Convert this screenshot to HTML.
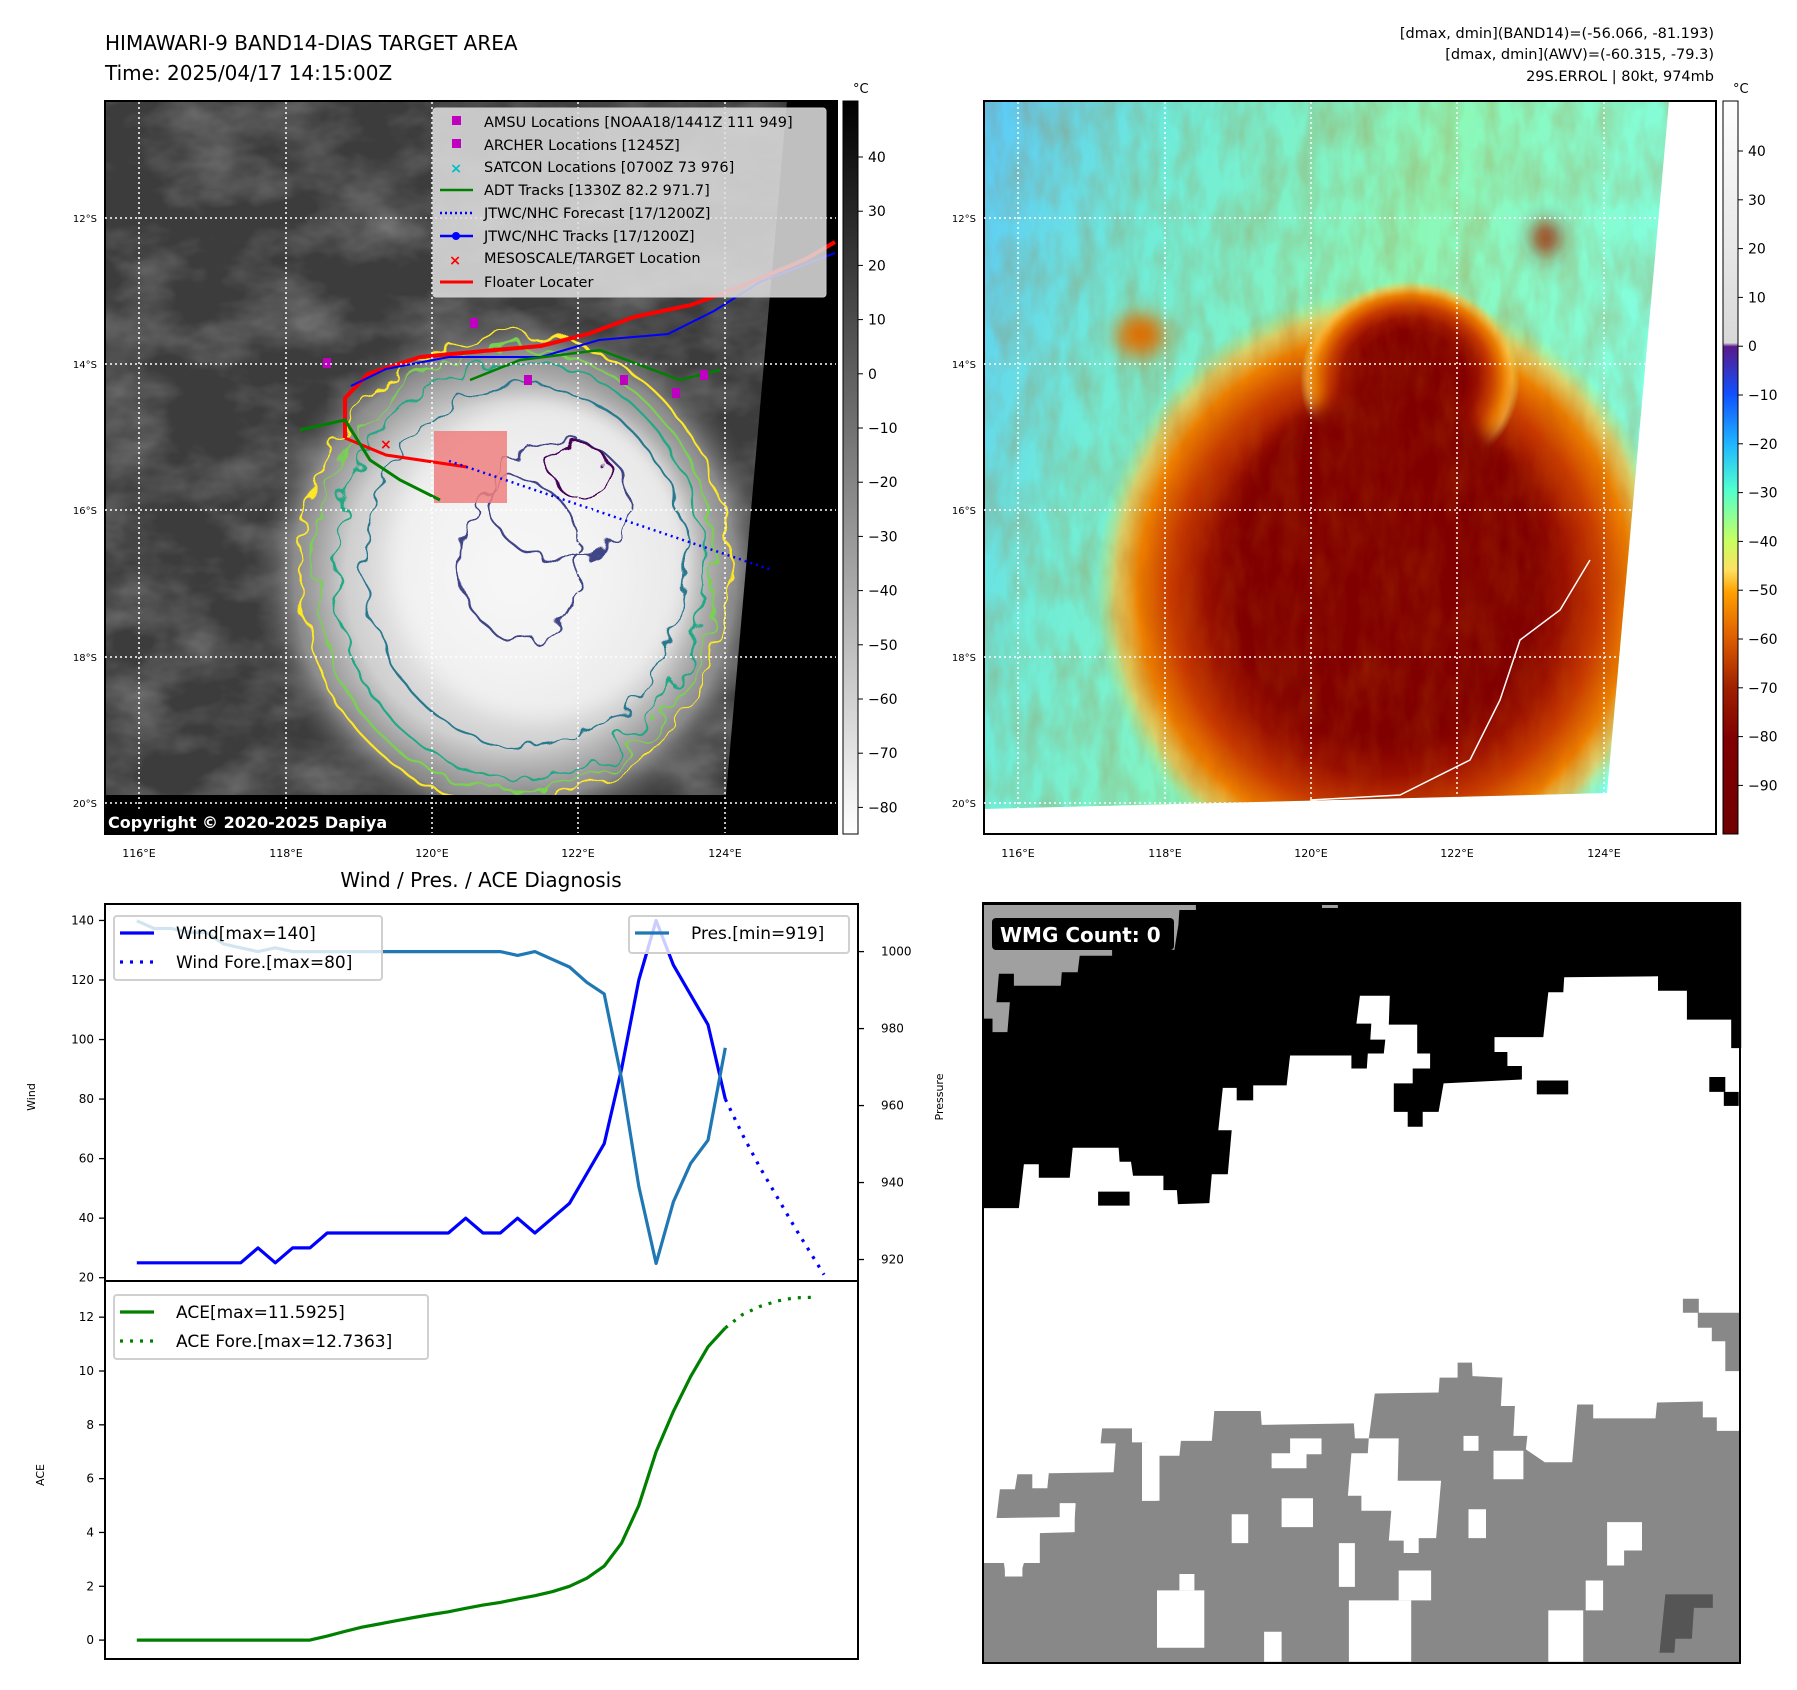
<!DOCTYPE html>
<html><head><meta charset="utf-8">
<style>
html,body{margin:0;padding:0;background:#fff;}
svg{display:block;font-family:"DejaVu Sans","Liberation Sans",sans-serif;}
</style></head>
<body>
<svg id="root" width="1797" height="1690" viewBox="0 0 1797 1690" xmlns="http://www.w3.org/2000/svg">
<defs>
  <filter id="clouds" x="0" y="0" width="100%" height="100%">
    <feTurbulence type="fractalNoise" baseFrequency="0.012 0.02" numOctaves="4" seed="7"/>
    <feColorMatrix type="matrix" values="0 0 0 0 0.6  0 0 0 0 0.6  0 0 0 0 0.6  0 0 0 0.9 -0.35"/>
  </filter>
  <filter id="wig" x="-20%" y="-20%" width="140%" height="140%">
    <feTurbulence type="fractalNoise" baseFrequency="0.04" numOctaves="2" seed="3" result="n"/>
    <feDisplacementMap in="SourceGraphic" in2="n" scale="28"/>
  </filter>
  <filter id="tex" x="0" y="0" width="100%" height="100%">
    <feTurbulence type="fractalNoise" baseFrequency="0.05 0.02" numOctaves="3" seed="11"/>
    <feColorMatrix type="matrix" values="0 0 0 0 0.5  0 0 0 0 0.1  0 0 0 0 0  0 0 0 0.9 -0.3"/>
  </filter>
  <filter id="blur8" x="-100%" y="-100%" width="300%" height="300%"><feGaussianBlur stdDeviation="10"/></filter>
  <radialGradient id="bright" cx="0.5" cy="0.5" r="0.5">
    <stop offset="0" stop-color="#ffffff"/>
    <stop offset="0.35" stop-color="#f0f0f0"/>
    <stop offset="0.65" stop-color="#cfcfcf"/>
    <stop offset="0.85" stop-color="#9a9a9a" stop-opacity="0.8"/>
    <stop offset="1" stop-color="#555" stop-opacity="0"/>
  </radialGradient>
  <radialGradient id="hot" cx="0.5" cy="0.5" r="0.5">
    <stop offset="0" stop-color="#7c0000"/>
    <stop offset="0.5" stop-color="#840000"/>
    <stop offset="0.62" stop-color="#9a1000"/>
    <stop offset="0.74" stop-color="#c83a00"/>
    <stop offset="0.85" stop-color="#ee8000"/>
    <stop offset="0.93" stop-color="#ffc040" stop-opacity="0.7"/>
    <stop offset="1" stop-color="#c8f070" stop-opacity="0"/>
  </radialGradient>
  <linearGradient id="bgTR" x1="0" y1="0" x2="1" y2="0.3">
    <stop offset="0" stop-color="#5cc8f8"/>
    <stop offset="0.25" stop-color="#70ecd8"/>
    <stop offset="0.6" stop-color="#8cf8b8"/>
    <stop offset="1" stop-color="#80ffe8"/>
  </linearGradient>
  <linearGradient id="cbL" x1="0" y1="0" x2="0" y2="1">
    <stop offset="0" stop-color="#000"/>
    <stop offset="1" stop-color="#fff"/>
  </linearGradient>
  <linearGradient id="cbR" x1="0" y1="0" x2="0" y2="1">
    <stop offset="0" stop-color="#ffffff"/>
    <stop offset="0.33" stop-color="#d8d8d8"/>
    <stop offset="0.335" stop-color="#5a1a8a"/>
    <stop offset="0.40" stop-color="#1050ff"/>
    <stop offset="0.47" stop-color="#20b8ff"/>
    <stop offset="0.53" stop-color="#50ffd0"/>
    <stop offset="0.60" stop-color="#c8ff60"/>
    <stop offset="0.64" stop-color="#ffe060"/>
    <stop offset="0.67" stop-color="#ffa000"/>
    <stop offset="0.73" stop-color="#e06000"/>
    <stop offset="0.80" stop-color="#a02000"/>
    <stop offset="0.87" stop-color="#800000"/>
    <stop offset="1" stop-color="#700000"/>
  </linearGradient>
  <clipPath id="clipTL"><rect x="105" y="101" width="732" height="733"/></clipPath>
  <clipPath id="clipTR"><polygon points="984,101 1669,101 1607,793 984,809"/></clipPath>
</defs>

<text x="105" y="50" font-size="20" fill="#000">HIMAWARI-9 BAND14-DIAS TARGET AREA</text>
<text x="105" y="80" font-size="20" fill="#000">Time: 2025/04/17 14:15:00Z</text>
<g font-size="14.5" text-anchor="end" fill="#000">
  <text x="1714" y="38">[dmax, dmin](BAND14)=(-56.066, -81.193)</text>
  <text x="1714" y="59">[dmax, dmin](AWV)=(-60.315, -79.3)</text>
  <text x="1714" y="81">29S.ERROL | 80kt, 974mb</text>
</g>

<g clip-path="url(#clipTL)">
  <rect x="105" y="101" width="732" height="733" fill="#3c3c3c"/>
  <rect x="105" y="101" width="732" height="733" filter="url(#clouds)" opacity="0.8"/>
  <ellipse cx="515" cy="575" rx="260" ry="265" fill="url(#bright)"/>
  <ellipse cx="540" cy="560" rx="150" ry="160" fill="#f4f4f4" opacity="0.7" filter="url(#blur8)"/>
  <g fill="none" stroke-width="2.2" filter="url(#wig)">
    <ellipse cx="515" cy="570" rx="215" ry="235" stroke="#fde725"/>
    <ellipse cx="515" cy="570" rx="200" ry="222" stroke="#7ad151"/>
    <ellipse cx="520" cy="570" rx="185" ry="208" stroke="#22a884"/>
    <ellipse cx="525" cy="565" rx="160" ry="180" stroke="#2a788e"/>
    <ellipse cx="560" cy="500" rx="70" ry="60" stroke="#414487"/>
    <ellipse cx="520" cy="560" rx="60" ry="80" stroke="#414487"/>
    <ellipse cx="580" cy="470" rx="30" ry="25" stroke="#440154"/>
  </g>
  <polygon points="787,101 837,101 837,834 105,834 105,795 726,795" fill="#000"/>
  <rect x="434" y="431" width="73" height="72" fill="#f08080" opacity="0.85"/>
  <polyline points="345,438 345,398 368,374 420,357 484,351 541,346 588,334 634,317 691,305 737,288 806,259 835,242" fill="none" stroke="#ff0000" stroke-width="4"/>
  <polyline points="351,386 386,369 449,357 541,357 599,340 668,334 714,311 760,282 835,253" fill="none" stroke="#0000ff" stroke-width="2"/>
  <polyline points="345,438 386,455 467,467" fill="none" stroke="#ff0000" stroke-width="3"/>
  <polyline points="449,461 772,570" fill="none" stroke="#0000ff" stroke-width="2.5" stroke-dasharray="2,4"/>
  <polyline points="300,430 345,420 370,460 400,480 440,500" fill="none" stroke="#008000" stroke-width="3"/>
  <polyline points="470,380 520,360 600,350 680,380 720,370" fill="none" stroke="#008000" stroke-width="2.5"/>
  <g fill="#c000c0">
    <rect x="323" y="358" width="8" height="10"/><rect x="470" y="318" width="8" height="10"/>
    <rect x="524" y="375" width="8" height="10"/><rect x="620" y="375" width="8" height="10"/>
    <rect x="672" y="388" width="8" height="10"/><rect x="700" y="370" width="8" height="10"/>
  </g>
  <text x="380" y="449" fill="#ff0000" font-size="14" font-weight="bold">×</text>
</g>
<rect x="105" y="101" width="732" height="733" fill="none" stroke="#000" stroke-width="2"/>
<g id="gridTL" stroke="#fff" stroke-width="1.5" stroke-dasharray="2,3"></g>
<rect x="105" y="810" width="310" height="24" fill="#000"/>
<text x="108" y="828" fill="#fff" font-size="16" font-weight="bold">Copyright © 2020-2025 Dapiya</text>

<g>
  <rect x="433" y="108" width="393" height="189" rx="3" fill="#e0e0e0" fill-opacity="0.85" stroke="#ccc"/>
  <g font-size="14.5" fill="#000">
    <rect x="452" y="116" width="9" height="9" fill="#c000c0"/><text x="484" y="127">AMSU Locations [NOAA18/1441Z 111 949]</text>
    <rect x="452" y="139" width="9" height="9" fill="#c000c0"/><text x="484" y="150">ARCHER Locations [1245Z]</text>
    <text x="450" y="173" fill="#00c0c0" font-weight="bold">×</text><text x="484" y="172">SATCON Locations [0700Z 73 976]</text>
    <line x1="440" y1="190" x2="473" y2="190" stroke="#008000" stroke-width="2.5"/><text x="484" y="195">ADT Tracks [1330Z 82.2 971.7]</text>
    <line x1="440" y1="213" x2="473" y2="213" stroke="#0000ff" stroke-width="2.5" stroke-dasharray="2,3"/><text x="484" y="218">JTWC/NHC Forecast [17/1200Z]</text>
    <line x1="440" y1="236" x2="473" y2="236" stroke="#0000ff" stroke-width="2.5"/><circle cx="456" cy="236" r="4" fill="#0000ff"/><text x="484" y="241">JTWC/NHC Tracks [17/1200Z]</text>
    <text x="449" y="265" fill="#ff0000" font-weight="bold">×</text><text x="484" y="263">MESOSCALE/TARGET Location</text>
    <line x1="440" y1="282" x2="473" y2="282" stroke="#ff0000" stroke-width="3"/><text x="484" y="287">Floater Locater</text>
  </g>
</g>

<rect x="843" y="101" width="15" height="733" fill="url(#cbL)" stroke="#000" stroke-width="1"/>
<text x="853" y="93" font-size="13">°C</text>
<g id="cbLticks" font-size="14"></g>

<g>
  <g clip-path="url(#clipTR)">
    <rect x="984" y="101" width="732" height="733" fill="url(#bgTR)"/>
    <ellipse cx="1385" cy="590" rx="290" ry="300" fill="url(#hot)"/>
    <ellipse cx="1410" cy="380" rx="110" ry="100" fill="url(#hot)"/>
    <ellipse cx="1385" cy="570" rx="160" ry="180" fill="#800000" filter="url(#blur8)"/>
    <ellipse cx="1140" cy="335" rx="25" ry="22" fill="#e07000" filter="url(#blur8)"/>
    <ellipse cx="1546" cy="238" rx="14" ry="18" fill="#a02000" filter="url(#blur8)"/>
    <rect x="984" y="101" width="732" height="733" filter="url(#tex)" opacity="0.5"/>
    <path d="M1590,560 L1560,610 L1520,640 L1500,700 L1470,760 L1400,795 L1310,800" fill="none" stroke="#fff" stroke-width="1.5"/>
  </g>
  <rect x="984" y="101" width="732" height="733" fill="none" stroke="#000" stroke-width="2"/>
</g>
<g id="gridTR" stroke="#fff" stroke-width="1.5" stroke-dasharray="2,3"></g>
<rect x="1723" y="101" width="15" height="733" fill="url(#cbR)" stroke="#000" stroke-width="1"/>
<text x="1733" y="93" font-size="13">°C</text>
<g id="cbRticks" font-size="14"></g>

<text x="481" y="887" font-size="20" text-anchor="middle">Wind / Pres. / ACE Diagnosis</text>
<g id="chart"></g>

<g id="wmg"></g>
</svg>

<script>
const windIdx = [0,1,2,3,4,5,6,7,8,9,10,11,12,13,14,15,16,17,18,19,20,21,22,23,24,25,26,27,28,29,30,31,32,33,34];
const windVals = [25,25,25,25,25,25,25,30,25,30,30,35,35,35,35,35,35,35,35,40,35,35,40,35,40,45,55,65,90,120,140,125,115,105,80];
const windForeIdx = [34,35,36,37,38,39.7];
const windForeVals = [80,68,57,47,37,21];
const presVals = [1008,1006,1006,1005,1005,1002,1001,1000,1001,1000,1000,1000,1000,1000,1000,1000,1000,1000,1000,1000,1000,1000,999,1000,998,996,992,989,967,939,919,935,945,951,975];
const aceVals = [0,0,0,0,0,0,0,0,0,0,0,0.15,0.32,0.48,0.6,0.72,0.84,0.95,1.05,1.18,1.3,1.4,1.53,1.65,1.8,2.0,2.3,2.75,3.6,5.0,7.0,8.5,9.8,10.9,11.6];
const aceForeIdx = [34,35,36,37,38,39.1];
const aceForeVals = [11.6,12.1,12.4,12.6,12.72,12.74];
const windTicks = [20,40,60,80,100,120,140];
const presTicks = [920,940,960,980,1000];
const aceTicks = [0,2,4,6,8,10,12];
const latTicks = ["12°S","14°S","16°S","18°S","20°S"];
const lonTicks = ["116°E","118°E","120°E","122°E","124°E"];
const cbLTicks = [40,30,20,10,0,-10,-20,-30,-40,-50,-60,-70,-80];
const cbRTicks = [40,30,20,10,0,-10,-20,-30,-40,-50,-60,-70,-80,-90];

const NS = "http://www.w3.org/2000/svg";
function mk(tag, attrs, parent){const e=document.createElementNS(NS,tag);for(const k in attrs)e.setAttribute(k,attrs[k]);parent.appendChild(e);return e;}

const xS = i => 136.8 + 17.31*i;
const yW = v => 1277.7 - (v-20)*2.977;
const yP = p => 951.6 + (1000-p)*3.849;
const yA = a => 1640.1 - a*26.91;

const chart = document.getElementById('chart');
let f1 = mk('rect',{x:105,y:904,width:753,height:377,fill:'#fff',stroke:'#000','stroke-width':2},chart);


let f2 = mk('rect',{x:105,y:1281,width:753,height:378,fill:'#fff',stroke:'#000','stroke-width':2},chart);



function ticksLeft(vals, yf, name){
  vals.forEach(v=>{
    const y=yf(v);
    const l=mk('line',{x1:99,x2:105,y1:y,y2:y,stroke:'#000','stroke-width':1.3},chart);
    
    
    const t=mk('text',{x:94,y:y+4,'font-size':12,'text-anchor':'end'},chart);
    t.textContent=v;
    
    
  });
}
ticksLeft(windTicks,yW,'wind-axis');
ticksLeft(aceTicks,yA,'ace-axis');
presTicks.forEach(v=>{
  const y=yP(v);
  const l=mk('line',{x1:858,x2:864,y1:y,y2:y,stroke:'#000','stroke-width':1.3},chart);
  
  
  const t=mk('text',{x:881,y:y+4,'font-size':12},chart);
  t.textContent=v;
  
  
});
function vlabel(x,y,txt,name){
  const t=mk('text',{x:x,y:y,'font-size':11,'text-anchor':'middle',transform:`rotate(-90 ${x} ${y})`},chart);
  t.textContent=txt;
  
  
}
vlabel(35,1097,'Wind','wind-axis-title');
vlabel(943,1097,'Pressure','pressure-axis-title');
vlabel(44,1475,'ACE','ace-axis-title');

function line(xs, ys, color, dash, name, w){
  const pts = xs.map((x,i)=>x.toFixed(1)+','+ys[i].toFixed(1)).join(' ');
  const p=mk('polyline',{points:pts,fill:'none',stroke:color,'stroke-width':w||3.2,'stroke-linejoin':'round'},chart);
  if(dash)p.setAttribute('stroke-dasharray',dash);
  
  
}
line(windIdx.map(xS), windVals.map(yW), '#0000ff', null, 'wind-line');
line(windForeIdx.map(xS), windForeVals.map(yW), '#0000ff', '3,7', 'wind-forecast-line');
line(windIdx.map(xS), presVals.map(yP), '#1f77b4', null, 'pressure-line');
line(windIdx.map(xS), aceVals.map(yA), '#008000', null, 'ace-line');
line(aceForeIdx.map(xS), aceForeVals.map(yA), '#008000', '3,7', 'ace-forecast-line');

function legend(x,y,w,h,items,name){
  const g=mk('g',{},chart);
  
  
  mk('rect',{x:x,y:y,width:w,height:h,rx:3,fill:'#fff','fill-opacity':0.8,stroke:'#d0d0d0','stroke-width':2},g);
  items.forEach((it,i)=>{
    const cy=y+17+i*29;
    const l=mk('line',{x1:x+6,x2:x+40,y1:cy,y2:cy,stroke:it[1],'stroke-width':3.2},g);
    if(it[2])l.setAttribute('stroke-dasharray','3,7');
    const t=mk('text',{x:x+62,y:cy+6,'font-size':17},g);
    t.textContent=it[0];
  });
}
legend(114,916,268,64,[['Wind[max=140]','#0000ff',0],['Wind Fore.[max=80]','#0000ff',1]],'wind-legend');
legend(629,916,220,37,[['Pres.[min=919]','#1f77b4',0]],'pressure-legend');
legend(114,1295,314,64,[['ACE[max=11.5925]','#008000',0],['ACE Fore.[max=12.7363]','#008000',1]],'ace-legend');

const latY=[218,364,510,657,803];
function grid(gid, x0, x1, lonX, labelX){
  const g=document.getElementById(gid);
  latY.forEach((y,i)=>{
    const l=mk('line',{x1:x0,x2:x1,y1:y,y2:y},g);
    
    
    const t=mk('text',{x:labelX,y:y+4,'font-size':10,'text-anchor':'end',stroke:'none',fill:'#000'},g);
    t.textContent=latTicks[i];
    
    
  });
  lonX.forEach((x,i)=>{
    const l=mk('line',{x1:x,x2:x,y1:102,y2:833},g);
    
    
    const t=mk('text',{x:x,y:857,'font-size':11,'text-anchor':'middle',stroke:'none',fill:'#000'},g);
    t.textContent=lonTicks[i];
    
    
  });
}
grid('gridTL',105,836,[139,286,432,578,725],97);
grid('gridTR',984,1668,[1018,1165,1311,1457,1604],976);

function cbTicks(gid, vals, x, y0, step){
  const g=document.getElementById(gid);
  vals.forEach((v,i)=>{
    const y=y0+i*step;
    mk('line',{x1:x,x2:x+5,y1:y,y2:y,stroke:'#000'},g);
    const t=mk('text',{x:x+10,y:y+5},g);
    t.textContent=(v<0?'\u2212':'')+Math.abs(v);
    
    
  });
}
cbTicks('cbLticks',cbLTicks,858,157,54.2);
cbTicks('cbRticks',cbRTicks,1738,151,48.8);

const wmg=document.getElementById('wmg');
const T = pts => pts.map(p=>(980+p[0]/2.006).toFixed(1)+','+(900+p[1]/2.006).toFixed(1)).join(' ');
function poly(pts,fill,name){
  const p=mk('polygon',{points:T(pts),fill:fill},wmg);
  
  
}
function box(a,b,c,d,fill,name){poly([[a,b],[c,b],[c,d],[a,d]],fill,name);}
const bg=mk('rect',{x:983,y:903,width:757,height:760,fill:'#fff'},wmg);


poly([[5,5],[1527,5],[1527,297],[1507,297],[1507,240],[1418,240],[1418,182],[1360,182],[1360,153],[1172,155],[1170,185],[1140,185],[1130,275],[1032,275],[1032,305],[1058,305],[1058,333],[1087,333],[1087,360],[930,368],[920,425],[888,425],[888,455],[858,455],[858,425],[830,425],[830,368],[868,368],[868,338],[903,338],[903,308],[877,308],[877,250],[820,250],[822,192],[762,192],[755,248],[785,248],[783,280],[813,280],[810,308],[778,308],[776,338],[745,338],[745,312],[622,312],[615,372],[548,372],[548,402],[515,402],[515,377],[487,377],[478,462],[505,462],[497,550],[465,550],[460,608],[397,610],[395,582],[368,582],[368,553],[307,553],[303,525],[280,525],[278,497],[186,497],[180,557],[118,557],[118,530],[88,530],[78,618],[5,618]],'#000','wmg-black-region');
box(1117,362,1180,390,'#000','wmg-black-cell');
box(1463,355,1495,385,'#000','wmg-black-cell');
box(1492,385,1522,413,'#000','wmg-black-cell');
box(237,585,300,613,'#000','wmg-black-cell');
poly([[5,10],[433,10],[433,20],[400,20],[398,50],[390,100],[265,100],[265,112],[200,112],[196,145],[164,145],[162,172],[68,172],[68,148],[38,148],[33,205],[60,205],[55,265],[25,265],[25,238],[5,238]],'#a0a0a0','wmg-gray-corner');
box(686,10,718,16,'#a0a0a0','wmg-gray-cell');
poly([[5,1330],[48,1330],[52,1357],[80,1357],[88,1330],[118,1330],[120,1270],[188,1268],[192,1210],[160,1210],[160,1238],[33,1240],[40,1182],[70,1182],[75,1152],[105,1152],[105,1180],[135,1180],[138,1150],[268,1148],[272,1090],[242,1090],[245,1060],[305,1060],[305,1088],[335,1088],[325,1205],[355,1205],[360,1115],[400,1115],[403,1085],[465,1085],[470,1025],[563,1025],[565,1053],[750,1050],[752,1080],[780,1080],[792,990],[920,988],[922,958],[958,958],[958,928],[987,928],[988,955],[1048,958],[1045,1015],[1073,1015],[1070,1075],[1098,1075],[1095,1102],[1133,1128],[1188,1128],[1198,1012],[1230,1012],[1230,1040],[1355,1040],[1358,1008],[1450,1006],[1450,1038],[1478,1038],[1478,1065],[1525,1065],[1525,1530],[5,1530]],'#888888','wmg-gray-region');
poly([[1410,800],[1442,800],[1442,828],[1525,828],[1525,945],[1495,945],[1495,885],[1468,885],[1468,858],[1440,858],[1440,828],[1410,828]],'#888888','wmg-gray-region-right');
poly([[780,1080],[840,1080],[838,1165],[925,1165],[915,1280],[880,1280],[880,1310],[850,1310],[850,1285],[820,1285],[825,1225],[765,1225],[765,1195],[738,1195],[745,1110],[778,1110]],'#fff','wmg-white-hole');
[[585,1110,655,1140],[622,1080,685,1112],[605,1200,668,1258],[505,1232,538,1290],[720,1290,752,1378],[980,1222,1015,1280],[970,1075,1000,1105],[1030,1105,1090,1162],[1258,1248,1328,1305],[1258,1305,1292,1335],[355,1385,450,1500],[400,1352,430,1385],[570,1468,605,1528],[740,1405,865,1528],[840,1345,905,1405],[1140,1425,1210,1528],[1215,1365,1250,1425],[5,1240,120,1330],[160,1210,190,1268],[325,1088,360,1205],[50,1330,85,1357]].forEach(r=>box(r[0],r[1],r[2],r[3],'#fff','wmg-white-hole'));
poly([[1375,1393],[1470,1393],[1470,1420],[1432,1420],[1428,1482],[1395,1482],[1393,1510],[1363,1510]],'#555555','wmg-dark-cell');
const fr=mk('rect',{x:983,y:903,width:757,height:760,fill:'none',stroke:'#000','stroke-width':2},wmg);


const lb=mk('rect',{x:992,y:918,width:182,height:32,rx:4,fill:'#000'},wmg);


const lt=mk('text',{x:1000,y:942,'font-size':20,'font-weight':'bold',fill:'#fff'},wmg);
lt.textContent='WMG Count: 0';


</script>
</body></html>
